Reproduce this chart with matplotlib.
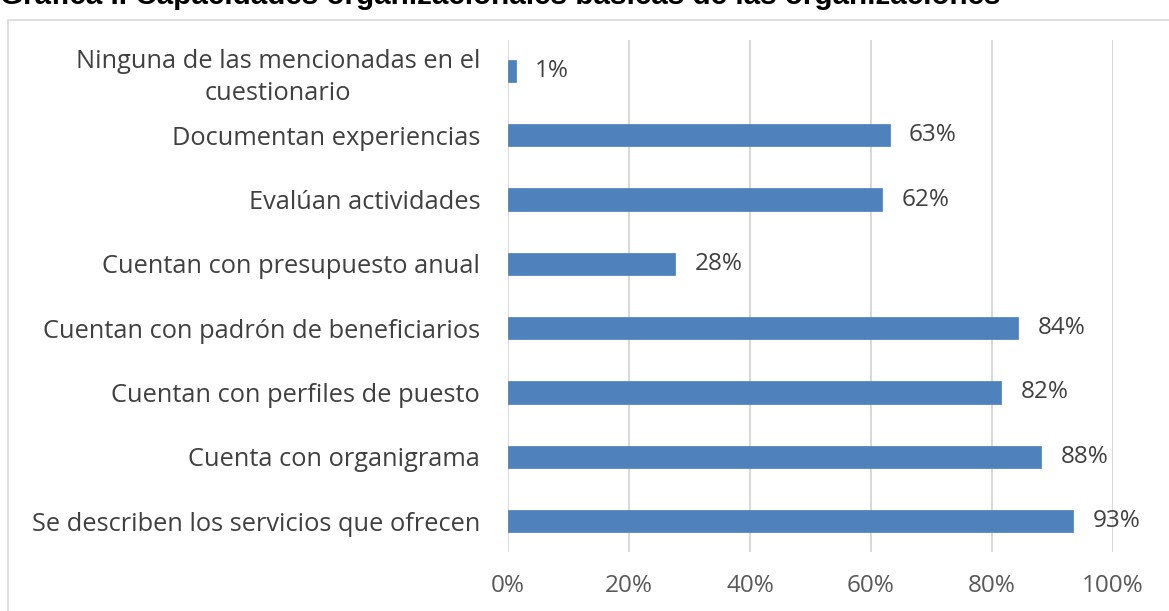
import matplotlib
matplotlib.use("Agg")
import matplotlib.pyplot as plt
from matplotlib.patches import Rectangle

categories = [
    "Se describen los servicios que ofrecen",
    "Cuenta con organigrama",
    "Cuentan con perfiles de puesto",
    "Cuentan con padrón de beneficiarios",
    "Cuentan con presupuesto anual",
    "Evalúan actividades",
    "Documentan experiencias",
    "Ninguna de las mencionadas en el\ncuestionario",
]
values = [93.4, 88.1, 81.5, 84.3, 27.6, 61.8, 63.1, 1.3]
labels = ["93%", "88%", "82%", "84%", "28%", "62%", "63%", "1%"]
xticks = [0, 20, 40, 60, 80, 100]
title = "Gráfica I. Capacidades organizacionales básicas de las organizaciones"

plt.rcParams['font.family'] = ['Open Sans', 'DejaVu Sans']

W, H = 1169, 611
fig = plt.figure(figsize=(W/100, H/100), dpi=100)

# chart frame
fig.patches.append(Rectangle((8/W, -0.1), 1.2, 1.1 - 20/H, transform=fig.transFigure,
                             fill=False, edgecolor='#d9d9d9', linewidth=1.2, zorder=0))

fig.text(0/W, 1 - 4/H, title, fontsize=21.3, fontweight='bold',
         family=['Liberation Sans', 'DejaVu Sans'], ha='left', va='baseline', color='black')

FS = 17.5
ax = fig.add_axes([508/W, 1 - 552/H, (1113 - 508)/W, (552 - 40)/H])
y = list(range(len(categories)))
ax.barh(y, values, height=0.35, color='#4f81bd', edgecolor='#4a7ebb', linewidth=0.5, zorder=3)
for yi, v, lab in zip(y, values, labels):
    ax.text(v + 3.2, yi, lab, va='center', ha='left', fontsize=FS, color='#404040', clip_on=False)

ax.set_xlim(0, 100)
ax.set_ylim(-0.48, 7.48)
ax.set_xticks(xticks)
ax.set_xticklabels([f"{t}%" for t in xticks], fontsize=FS, color='#595959')
ax.set_yticks(y)
ax.set_yticklabels(categories, fontsize=18.3, color='#404040', ha='right', multialignment='center',
                   linespacing=1.35)
ax.tick_params(axis='y', length=0, pad=20)
ax.tick_params(axis='x', length=0, pad=16)
ax.grid(axis='x', color='#d9d9d9', linewidth=1.5, zorder=0)
for s in ax.spines.values():
    s.set_visible(False)

fig.savefig("out.png", dpi=100)
